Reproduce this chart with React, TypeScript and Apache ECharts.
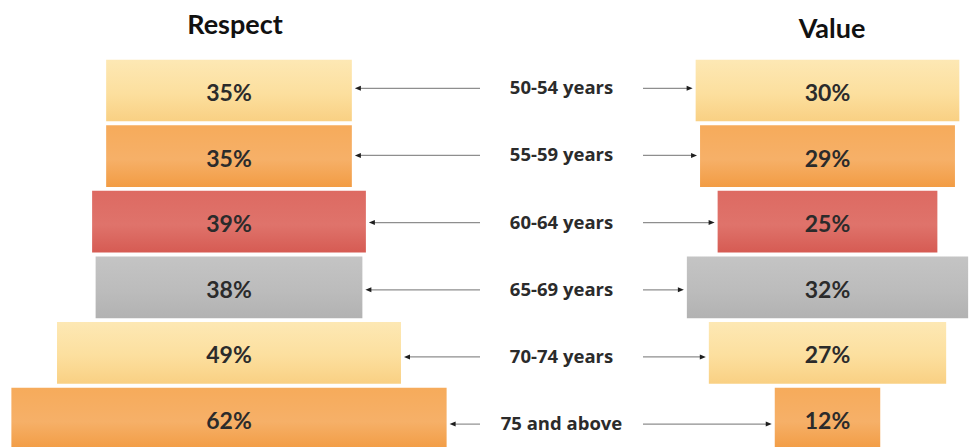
import React, { useEffect, useRef } from "react";
import * as echarts from "echarts";

// Age groups shown between the two panels (top to bottom)
const ageGroups = ["50-54 years", "55-59 years", "60-64 years", "65-69 years", "70-74 years", "75 and above"];
// Share (%) per age group
const respectValues = [35, 35, 39, 38, 49, 62];
const valueValues = [30, 29, 25, 32, 27, 12];
const panelTitles = ["Respect", "Value"];

// Watercolour-like fills per row: [top, middle, bottom]
const rowColors = [
  ["#fde8b4", "#fcdf9e", "#f9d083"],
  ["#f6ab5b", "#f6b068", "#f29c44"],
  ["#dd6a62", "#df736b", "#d65b53"],
  ["#c4c4c4", "#bcbcbc", "#b2b2b2"],
  ["#fde8b4", "#fcdf9e", "#f9d083"],
  ["#f6ab5b", "#f6b068", "#f29c44"],
];

const FONT = "Lato, 'Noto Sans', sans-serif";
const LABEL_FONT = "'Open Sans', 'Noto Sans', sans-serif";
const TEXT_COLOR = "#2b2b2b";

// Chart canvas is a little taller than the page so the bottom row can run off the edge
const CHART_W = 970;
const CHART_H = 470;

function fillFor(i: number) {
  const c = rowColors[i % rowColors.length];
  return {
    type: "linear",
    x: 0,
    y: 0,
    x2: 0,
    y2: 1,
    colorStops: [
      { offset: 0, color: c[0] },
      { offset: 0.55, color: c[1] },
      { offset: 1, color: c[2] },
    ],
  };
}

// Centered bar with its percentage label
function barItem(params: any, api: any) {
  const v = api.value(0);
  const i = api.value(1);
  const a = api.coord([-v / 2, i]);
  const b = api.coord([v / 2, i]);
  const h = api.size([0, 1])[1] * 0.94;
  return {
    type: "group",
    children: [
      {
        type: "rect",
        shape: { x: a[0], y: a[1] - h / 2, width: b[0] - a[0], height: h },
        style: { fill: fillFor(i) },
      },
      {
        type: "text",
        x: (a[0] + b[0]) / 2,
        y: a[1] + 1.5,
        style: {
          text: v + "%",
          align: "center",
          verticalAlign: "middle",
          fill: TEXT_COLOR,
          font: `bold 23px ${FONT}`,
        },
      },
    ],
  };
}

// Arrow from the middle column toward the bar edge
function arrowItem(side: "left" | "right") {
  return (params: any, api: any) => {
    const v = api.value(0);
    const i = api.value(1);
    const cs = params.coordSys;
    const y = api.coord([0, i])[1];
    let start: number;
    let tip: number;
    if (side === "left") {
      start = cs.x + cs.width;
      tip = api.coord([v / 2, i])[0] + 3;
    } else {
      start = cs.x;
      tip = api.coord([-v / 2, i])[0] - 3;
    }
    const dir = side === "left" ? 1 : -1;
    const headLen = 6;
    return {
      type: "group",
      children: [
        {
          type: "line",
          shape: { x1: start, y1: y, x2: tip + dir * headLen * 0.6, y2: y },
          style: { stroke: "#8e8e8e", lineWidth: 1.2 },
        },
        {
          type: "polygon",
          shape: {
            points: [
              [tip, y],
              [tip + dir * headLen, y - 2.5],
              [tip + dir * headLen, y + 2.5],
            ],
          },
          style: { fill: "#1e1e1e" },
        },
      ],
    };
  };
}

function middleLabel(params: any, api: any) {
  const i = api.value(1);
  const cs = params.coordSys;
  const y = api.coord([0, i])[1];
  return {
    type: "text",
    x: cs.x + cs.width / 2,
    y: y - 1.5,
    style: {
      text: ageGroups[i],
      align: "center",
      verticalAlign: "middle",
      fill: TEXT_COLOR,
      font: `bold 18.5px ${LABEL_FONT}`,
    },
  };
}

// Value-axis bounds so that 0 sits at centerPx with the given pixels per unit
function axisBounds(gridLeft: number, gridWidth: number, centerPx: number, pxPerUnit: number) {
  return {
    min: -(centerPx - gridLeft) / pxPerUnit,
    max: (gridLeft + gridWidth - centerPx) / pxPerUnit,
  };
}

export default function App() {
  const ref = useRef<HTMLDivElement>(null);

  useEffect(() => {
    if (!ref.current) return;
    const chart = echarts.init(ref.current, null, { renderer: "svg" });

    const barGridTop = 57.7;
    const barGridHeight = 393.6;
    const rowGridTop = 54.7;
    const rowGridHeight = 403;

    const leftGrid = { left: 0, width: 480 };
    const midGrid = { left: 480, width: 163 };
    const rightGrid = { left: 643, width: CHART_W - 643 };
    const leftBounds = axisBounds(leftGrid.left, leftGrid.width, 229, 7.02);
    const rightBounds = axisBounds(rightGrid.left, rightGrid.width, 827.5, 8.79);

    const hiddenValueAxis = (gridIndex: number, b: { min: number; max: number }) => ({
      type: "value",
      gridIndex,
      min: b.min,
      max: b.max,
      show: false,
    });
    const hiddenCatAxis = (gridIndex: number) => ({
      type: "category",
      gridIndex,
      data: ageGroups,
      inverse: true,
      show: false,
    });

    const respectData = respectValues.map((v, i) => [v, i]);
    const valueData = valueValues.map((v, i) => [v, i]);

    chart.setOption({
      animation: false,
      backgroundColor: "#ffffff",
      grid: [
        { ...leftGrid, top: barGridTop, height: barGridHeight },
        { ...leftGrid, top: rowGridTop, height: rowGridHeight },
        { ...midGrid, top: rowGridTop, height: rowGridHeight },
        { ...rightGrid, top: barGridTop, height: barGridHeight },
        { ...rightGrid, top: rowGridTop, height: rowGridHeight },
      ],
      xAxis: [
        hiddenValueAxis(0, leftBounds),
        hiddenValueAxis(1, leftBounds),
        hiddenValueAxis(2, { min: -1, max: 1 }),
        hiddenValueAxis(3, rightBounds),
        hiddenValueAxis(4, rightBounds),
      ],
      yAxis: [hiddenCatAxis(0), hiddenCatAxis(1), hiddenCatAxis(2), hiddenCatAxis(3), hiddenCatAxis(4)],
      graphic: [
        {
          type: "text",
          x: 235,
          y: 23,
          style: {
            text: panelTitles[0],
            align: "center",
            verticalAlign: "middle",
            fill: "#111111",
            font: `bold 27px ${FONT}`,
          },
        },
        {
          type: "text",
          x: 832,
          y: 27,
          style: {
            text: panelTitles[1],
            align: "center",
            verticalAlign: "middle",
            fill: "#111111",
            font: `bold 27px ${FONT}`,
          },
        },
      ],
      series: [
        { type: "custom", xAxisIndex: 0, yAxisIndex: 0, data: respectData, renderItem: barItem },
        { type: "custom", xAxisIndex: 1, yAxisIndex: 1, data: respectData, renderItem: arrowItem("left") },
        { type: "custom", xAxisIndex: 2, yAxisIndex: 2, data: respectData, renderItem: middleLabel },
        { type: "custom", xAxisIndex: 3, yAxisIndex: 3, data: valueData, renderItem: barItem },
        { type: "custom", xAxisIndex: 4, yAxisIndex: 4, data: valueData, renderItem: arrowItem("right") },
      ],
    });

    return () => chart.dispose();
  }, []);

  return (
    <div
      ref={ref}
      style={{ position: "fixed", left: 0, top: 0, width: CHART_W, height: CHART_H, background: "#fff" }}
    />
  );
}
